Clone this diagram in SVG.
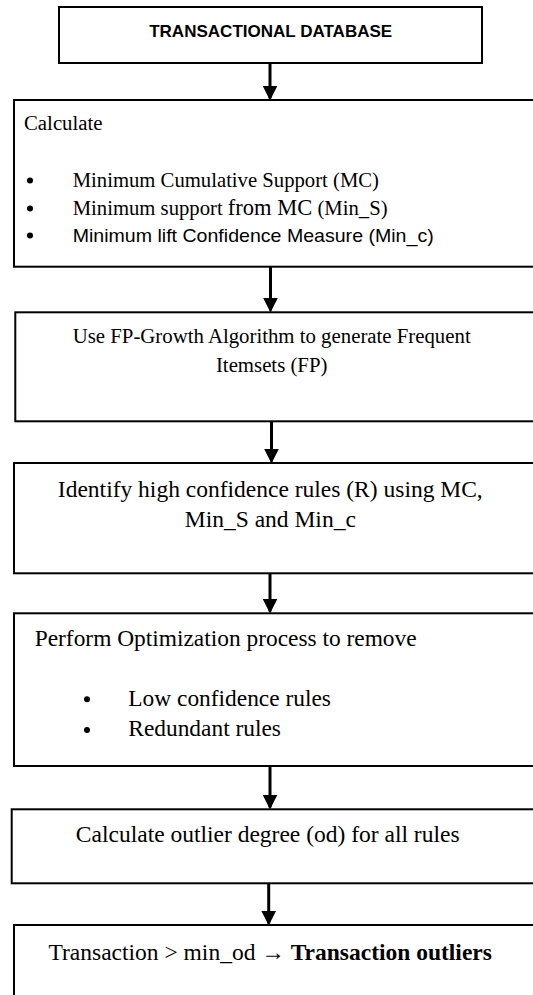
<svg xmlns="http://www.w3.org/2000/svg" width="533" height="995" viewBox="0 0 533 995">
<defs>
<style>
.box{fill:#fff;stroke:#000;stroke-width:2}
.serif{font-family:"Liberation Serif","Times New Roman",serif;fill:#000}
.sans{font-family:"Liberation Sans",Arial,sans-serif;fill:#000}
.conn{stroke:#000;stroke-width:3;fill:none}
.dot{fill:#000}
</style>
<marker id="ah" markerWidth="5" markerHeight="5" refX="4.3" refY="2.5" orient="auto" markerUnits="strokeWidth" viewBox="0 0 5 5">
<path d="M0,0 L5,2.5 L0,5 Z" fill="#000"/>
</marker>
</defs>
<rect width="533" height="995" fill="#fff"/>
<g id="n1">
<rect class="box" x="59" y="7" width="423" height="56"/>
<text class="sans" x="270.7" y="37.3" font-size="17" font-weight="bold" text-anchor="middle" textLength="243" lengthAdjust="spacingAndGlyphs">TRANSACTIONAL DATABASE</text>
</g>
<g id="n2">
<rect class="box" x="14" y="100" width="540" height="166.7"/>
<text class="serif" x="24" y="130" font-size="20.8">Calculate</text>
<circle class="dot" cx="30" cy="180.5" r="3"/>
<circle class="dot" cx="30" cy="208.5" r="3"/>
<circle class="dot" cx="30" cy="235.5" r="3"/>
<text class="serif" x="72.7" y="187" font-size="20.7">Minimum Cumulative Support (MC)</text>
<text class="serif" x="72.7" y="215" font-size="20.7">Minimum support <tspan font-size="22.5">from MC</tspan> (Min_S)</text>
<text class="sans" x="72.7" y="242" font-size="19" textLength="361" lengthAdjust="spacingAndGlyphs">Minimum lift Confidence Measure (Min_c)</text>
</g>
<g id="n3">
<rect class="box" x="15.3" y="312.3" width="540" height="109"/>
<text class="serif" x="271.7" y="343" font-size="20.8" text-anchor="middle">Use FP-Growth Algorithm to generate Frequent</text>
<text class="serif" x="271.7" y="371.5" font-size="20.8" text-anchor="middle">Itemsets (FP)</text>
</g>
<g id="n4">
<rect class="box" x="14" y="463" width="540" height="110.3"/>
<text class="serif" x="270.3" y="496.7" font-size="23.5" text-anchor="middle">Identify high confidence rules (R) using MC,</text>
<text class="serif" x="270.3" y="527.3" font-size="23.5" text-anchor="middle">Min_S and Min_c</text>
</g>
<g id="n5">
<rect class="box" x="14" y="613.3" width="540" height="152.7"/>
<text class="serif" x="34.7" y="645.7" font-size="23.4">Perform Optimization process to remove</text>
<circle class="dot" cx="87" cy="699.3" r="3"/>
<circle class="dot" cx="87" cy="730" r="3"/>
<text class="serif" x="128.3" y="706" font-size="23.4">Low confidence rules</text>
<text class="serif" x="128.3" y="735.7" font-size="23.4">Redundant rules</text>
</g>
<g id="n6">
<rect class="box" x="11.7" y="809.3" width="540" height="74"/>
<text class="serif" x="267.7" y="841.7" font-size="23.5" text-anchor="middle">Calculate outlier degree (od) for all rules</text>
</g>
<g id="n7">
<rect class="box" x="14" y="925" width="540" height="100"/>
<text class="serif" x="270.2" y="959.5" font-size="23.5" text-anchor="middle">Transaction &gt; min_od → <tspan font-weight="bold">Transaction outliers</tspan></text>
</g>
<g id="connectors">
<line class="conn" x1="270" y1="63" x2="270" y2="98.5" marker-end="url(#ah)"/>
<line class="conn" x1="270.5" y1="266.7" x2="270.5" y2="310.5" marker-end="url(#ah)"/>
<line class="conn" x1="271.5" y1="421.3" x2="271.5" y2="461.5" marker-end="url(#ah)"/>
<line class="conn" x1="270" y1="573.3" x2="270" y2="611.5" marker-end="url(#ah)"/>
<line class="conn" x1="270" y1="766" x2="270" y2="807.5" marker-end="url(#ah)"/>
<line class="conn" x1="268.7" y1="883.3" x2="268.7" y2="923.5" marker-end="url(#ah)"/>
</g>
</svg>
